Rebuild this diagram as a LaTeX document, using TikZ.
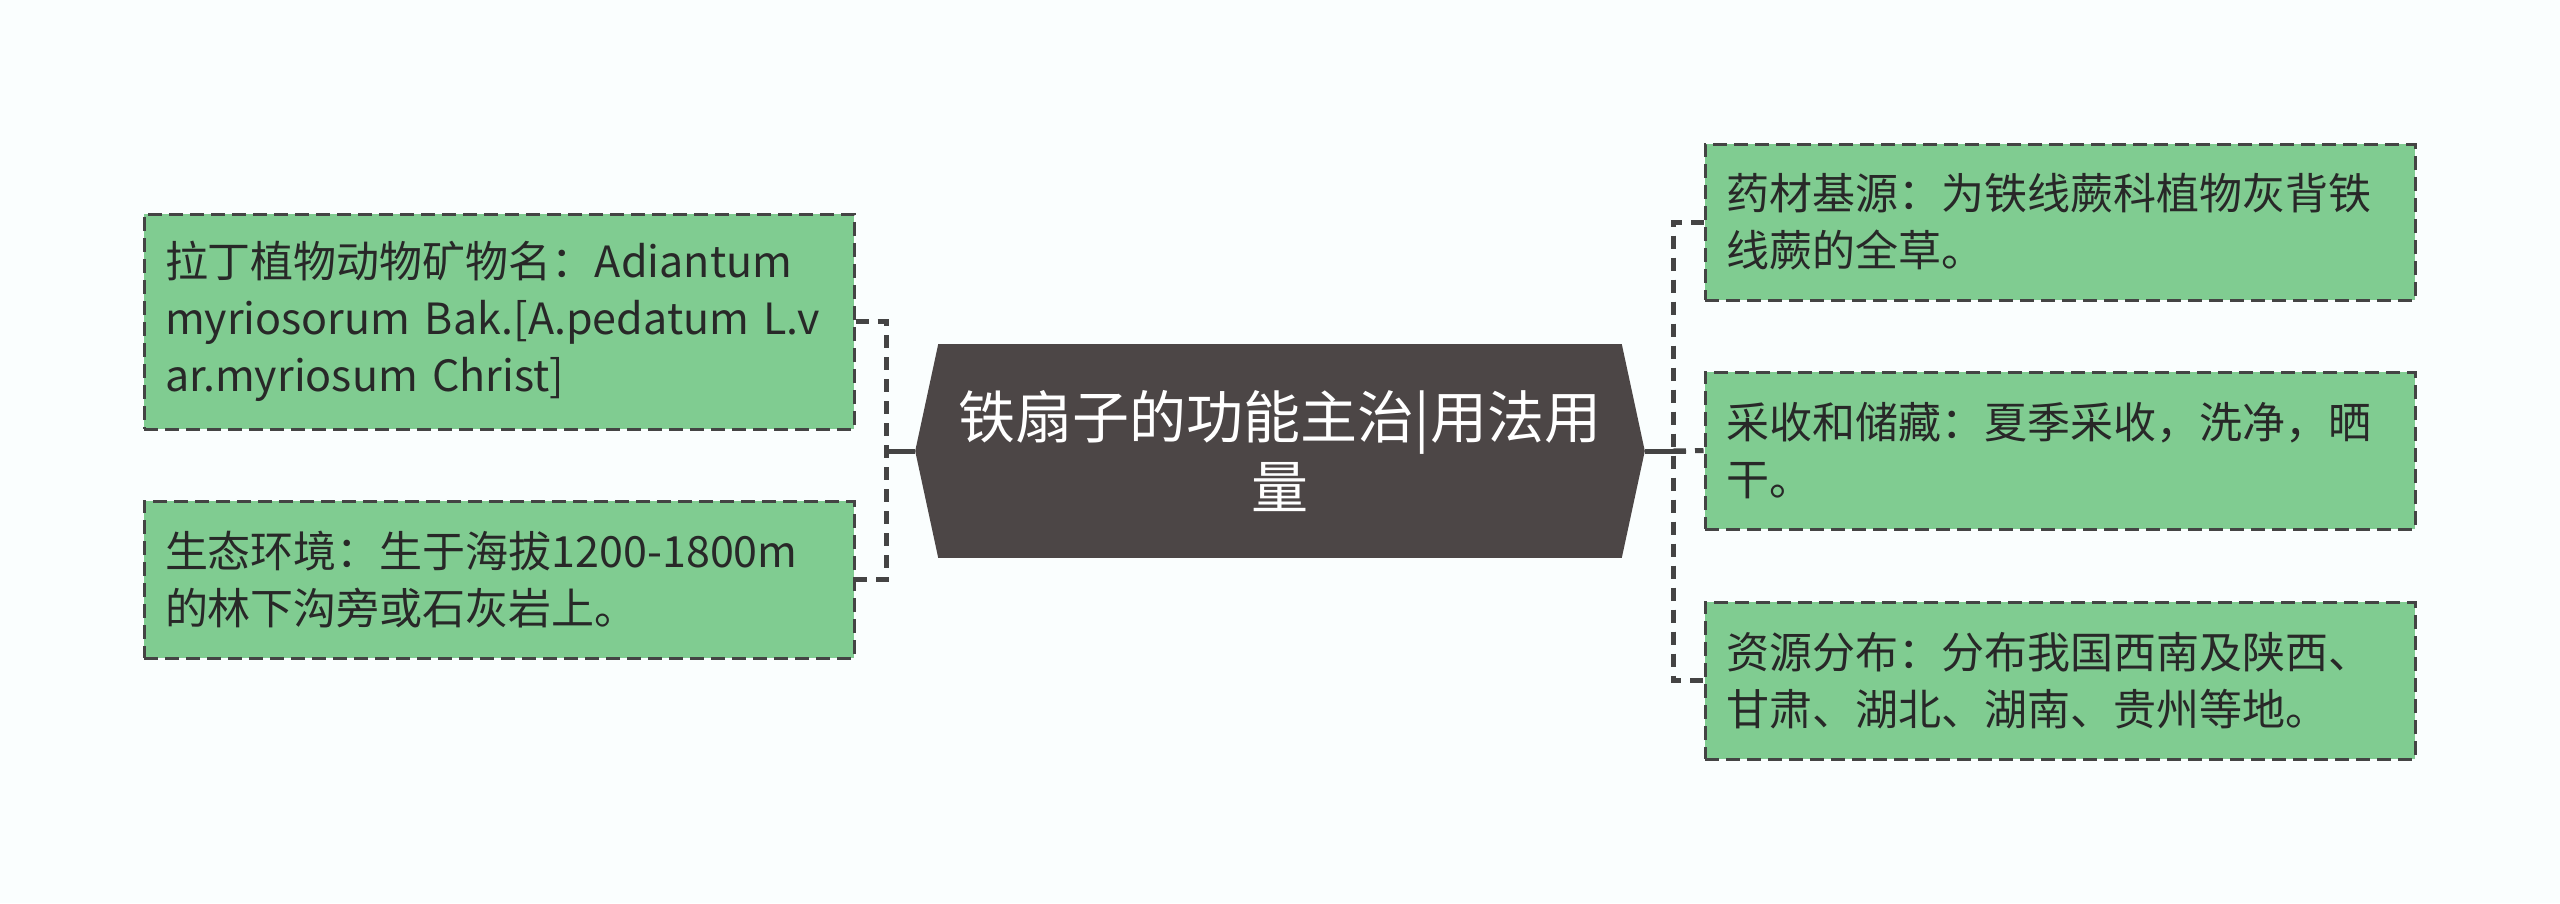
\documentclass[tikz,border=0pt]{standalone}
\usepackage{fontspec}
\setmainfont{Noto Sans CJK SC}
\usetikzlibrary{backgrounds}
\definecolor{pagebg}{RGB}{250,254,254}
\definecolor{leafgreen}{RGB}{128,204,145}
\definecolor{hubgray}{RGB}{76,70,70}
\definecolor{inkgray}{RGB}{68,68,68}
\definecolor{textgray}{RGB}{40,40,40}

\begin{document}
\begin{tikzpicture}[x=0.25pt,y=-0.25pt,
  leaf/.style={draw=inkgray, line width=0.75pt, dash pattern=on 3.5pt off 1.75pt,
    fill=leafgreen, text=textgray, align=left, text width=167pt,
    inner xsep=5.25pt, inner ysep=0pt, font=\fontsize{10.75pt}{14.25pt}\selectfont},
  link/.style={draw=inkgray, line width=1.25pt, dash pattern=on 3.25pt off 2.25pt},
  trunk/.style={draw=inkgray, line width=1.25pt}]

\useasboundingbox (0,0) rectangle (2560,903);

% centre
\node[minimum width=170.5pt, minimum height=53pt, inner sep=0pt, text=white, align=center,
  font=\fontsize{14.25pt}{17.5pt}\selectfont] (hub) at (1280,451) {铁扇子的功能主治|用法用\\量};
\coordinate (hubL) at ([shift={(-23,0)}]hub.west);
\coordinate (hubR) at ([shift={(23,0)}]hub.east);

% left side
\node[leaf, minimum height=53.75pt] (latin) at (499,321.5)
  {拉丁植物动物矿物名：Adiantum\\myriosorum Bak.[A.pedatum L.v\\ar.myriosum Christ]};
\node[leaf, minimum height=39.25pt] (habitat) at (499,579.5)
  {生态环境：生于海拔1200-1800m\\的林下沟旁或石灰岩上。};

% right side
\node[leaf, minimum height=39pt] (source) at (2060,222)
  {药材基源：为铁线蕨科植物灰背铁\\线蕨的全草。};
\node[leaf, minimum height=39.25pt] (harvest) at (2060,450.5)
  {采收和储藏：夏季采收，洗净，晒\\干。};
\node[leaf, minimum height=39.25pt] (range) at (2060,680.5)
  {资源分布：分布我国西南及陕西、\\甘肃、湖北、湖南、贵州等地。};

\coordinate (forkL) at (886,451);
\coordinate (forkR) at (1673,451);

\draw[link] (latin.east) -- (latin.east -| forkL) -- (habitat.east -| forkL) -- (habitat.east);
\draw[trunk] (hubL) -- (forkL);

\draw[link] (source.west) -- (source.west -| forkR) -- (range.west -| forkR) -- (range.west);
\draw[link] (forkR) -- (harvest.west);
\draw[trunk] (hubR) -- ([shift={(13,0)}]forkR);

\begin{scope}[on background layer]
\fill[pagebg] (0,0) rectangle (2560,903);
\fill[hubgray] (hub.north west) -- (hub.north east) -- (hubR) -- (hub.south east)
  -- (hub.south west) -- (hubL) -- cycle;
\end{scope}

\end{tikzpicture}
\end{document}
